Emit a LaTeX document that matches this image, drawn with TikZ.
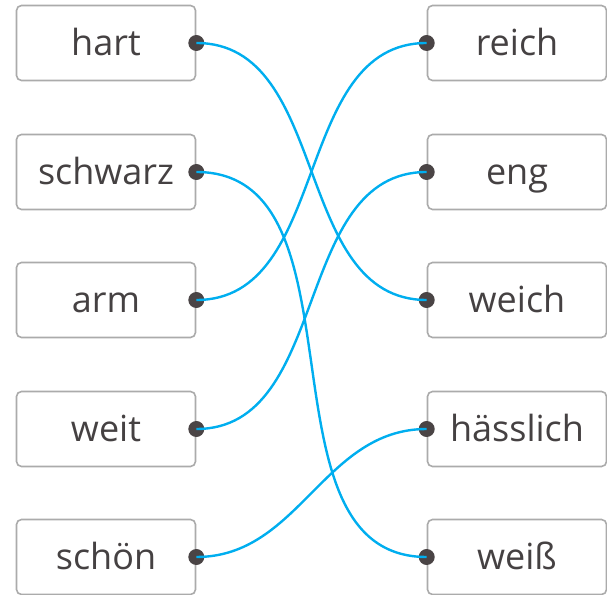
\documentclass[tikz,border=0pt]{standalone}
\usepackage{fontspec}
\setmainfont{Open Sans}
\usepackage{xcolor}

\definecolor{linkblue}{HTML}{00AEEF}
\definecolor{pingray}{HTML}{4A4445}
\definecolor{boxgray}{HTML}{ABABAB}
\definecolor{wordgray}{HTML}{454142}

\tikzset{
  word/.style={draw=boxgray, line width=1.6pt, rounded corners=5pt,
    minimum width=179pt, minimum height=75pt, inner sep=0pt,
    text height=25pt, text depth=0pt, text=wordgray,
    font=\fontsize{36}{42}\selectfont},
  pin/.style={circle, fill=pingray, inner sep=0pt, minimum size=16pt},
  link/.style={linkblue, line width=2.4pt, out=0, in=180}
}

\begin{document}
\begin{tikzpicture}[x=1pt, y=1pt]
  \useasboundingbox (0, 0) rectangle (607, 594);

  % Left words
  \node[word] (hart) at (106, 551) {hart};
  \node[word] (schwarz) at (106, 422) {schwarz};
  \node[word] (arm) at (106, 294) {arm};
  \node[word] (weit) at (106, 165) {weit};
  \node[word] (schoen) at (106, 37) {schön};

  % Right words
  \node[word] (reich) at (517, 551) {reich};
  \node[word] (eng) at (517, 422) {eng};
  \node[word] (weich) at (517, 294) {weich};
  \node[word] (haesslich) at (517, 165) {hässlich};
  \node[word] (weiss) at (517, 37) {weiß};

  % Pins on the left
  \node[pin] (hart-pin) at (hart.east) {};
  \node[pin] (schwarz-pin) at (schwarz.east) {};
  \node[pin] (arm-pin) at (arm.east) {};
  \node[pin] (weit-pin) at (weit.east) {};
  \node[pin] (schoen-pin) at (schoen.east) {};

  % Pins on the right
  \node[pin] (reich-pin) at (reich.west) {};
  \node[pin] (eng-pin) at (eng.west) {};
  \node[pin] (weich-pin) at (weich.west) {};
  \node[pin] (haesslich-pin) at (haesslich.west) {};
  \node[pin] (weiss-pin) at (weiss.west) {};

  % Opposites
  \draw[link] (hart-pin.center) to (weich-pin.center);
  \draw[link] (schwarz-pin.center) to (weiss-pin.center);
  \draw[link] (arm-pin.center) to (reich-pin.center);
  \draw[link] (weit-pin.center) to (eng-pin.center);
  \draw[link] (schoen-pin.center) to (haesslich-pin.center);
\end{tikzpicture}
\end{document}
